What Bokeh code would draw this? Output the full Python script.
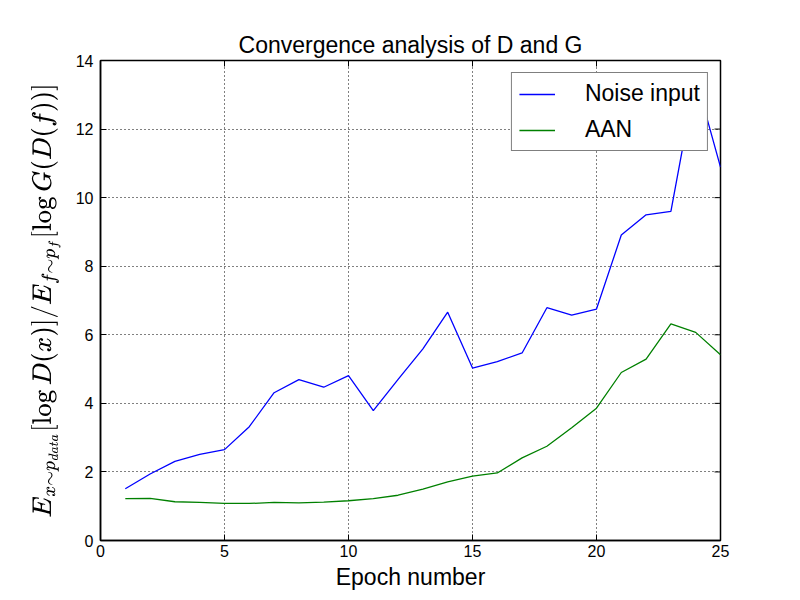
from bokeh.plotting import figure
from bokeh.models import Range1d, FixedTicker, Legend, LegendItem
from bokeh.embed import file_html
from bokeh.resources import INLINE

epochs = list(range(1, 26))
noise_input = [1.51, 1.94, 2.31, 2.51, 2.65, 3.32, 4.31, 4.69, 4.47, 4.81,
               3.79, 4.70, 5.59, 6.66, 5.03, 5.22, 5.47, 6.79, 6.57, 6.75,
               8.91, 9.50, 9.60, 13.5, 10.89]
aan = [1.22, 1.23, 1.13, 1.11, 1.08, 1.08, 1.11, 1.10, 1.12, 1.16,
       1.22, 1.32, 1.50, 1.71, 1.88, 1.97, 2.41, 2.75, 3.29, 3.86,
       4.90, 5.29, 6.32, 6.07, 5.42]
x_ticks = [0, 5, 10, 15, 20, 25]
y_ticks = [0, 2, 4, 6, 8, 10, 12, 14]
x_lim = (0, 25)
y_lim = (0, 14)

FONT = "Liberation Sans"

p = figure(width=800, height=600, output_backend="svg", toolbar_location=None,
           x_range=Range1d(*x_lim), y_range=Range1d(*y_lim),
           min_border_left=100, min_border_right=80, min_border_top=60,
           min_border_bottom=60, x_axis_label="Epoch number",
           y_axis_label=r"$$E_{x\sim p_{data}}[\log D(x)]/E_{f\sim p_f}[\log G(D(f))]$$")

p.title.text = "Convergence analysis of D and G"
p.title.text_font = FONT
p.title.text_font_size = "23px"
p.title.text_font_style = "normal"
p.title.text_color = "black"
p.title.align = "center"
p.title.offset = 0
p.title.standoff = 5

p.outline_line_color = "black"
p.outline_line_width = 1.5
p.background_fill_color = "white"
p.border_fill_color = "white"

for ax, ticks in ((p.xaxis[0], x_ticks), (p.yaxis[0], y_ticks)):
    ax.ticker = FixedTicker(ticks=ticks)
    ax.major_tick_in = 6
    ax.major_tick_out = 0
    ax.major_tick_line_color = "black"
    ax.minor_tick_line_color = None
    ax.axis_line_color = "black"
    ax.axis_line_width = 1.5
    ax.major_label_text_font = FONT
    ax.major_label_text_font_size = "16px"
    ax.major_label_text_color = "black"
    ax.axis_label_text_font = FONT
    ax.axis_label_text_font_size = "23px"
    ax.axis_label_text_font_style = "normal"
    ax.axis_label_text_color = "black"

p.xaxis[0].major_label_standoff = 4
p.xaxis[0].axis_label_standoff = 4
p.yaxis[0].major_label_standoff = 7
p.yaxis[0].axis_label_standoff = 12
p.yaxis[0].axis_label_text_font_size = "22px"

# inward tick marks on the top and right edges of the frame
p.scatter(x_ticks, [y_lim[1]] * len(x_ticks), marker="dash", size=12, angle=1.5708,
          line_color="black", line_width=1)
p.scatter([x_lim[1]] * len(y_ticks), y_ticks, marker="dash", size=12,
          line_color="black", line_width=1)

p.xgrid[0].ticker = FixedTicker(ticks=x_ticks)
p.ygrid[0].ticker = FixedTicker(ticks=y_ticks)
for g in (p.xgrid[0], p.ygrid[0]):
    g.grid_line_color = "black"
    g.grid_line_dash = "1 3"
    g.grid_line_width = 1

r1 = p.line(epochs, noise_input, line_color="blue", line_width=1.3)
r2 = p.line(epochs, aan, line_color="green", line_width=1.3)

legend = Legend(items=[LegendItem(label="Noise input", renderers=[r1]),
                       LegendItem(label="AAN", renderers=[r2])],
                location="top_right")
legend.label_text_font = FONT
legend.label_text_font_size = "23px"
legend.label_text_color = "black"
legend.border_line_color = "black"
legend.border_line_width = 1.3
legend.background_fill_alpha = 1
legend.margin = 12
legend.padding = 7
legend.spacing = 9
legend.glyph_width = 36
legend.label_standoff = 30
legend.label_height = 24
legend.glyph_height = 24
p.add_layout(legend)

open("out.html", "w").write(file_html(p, INLINE))
